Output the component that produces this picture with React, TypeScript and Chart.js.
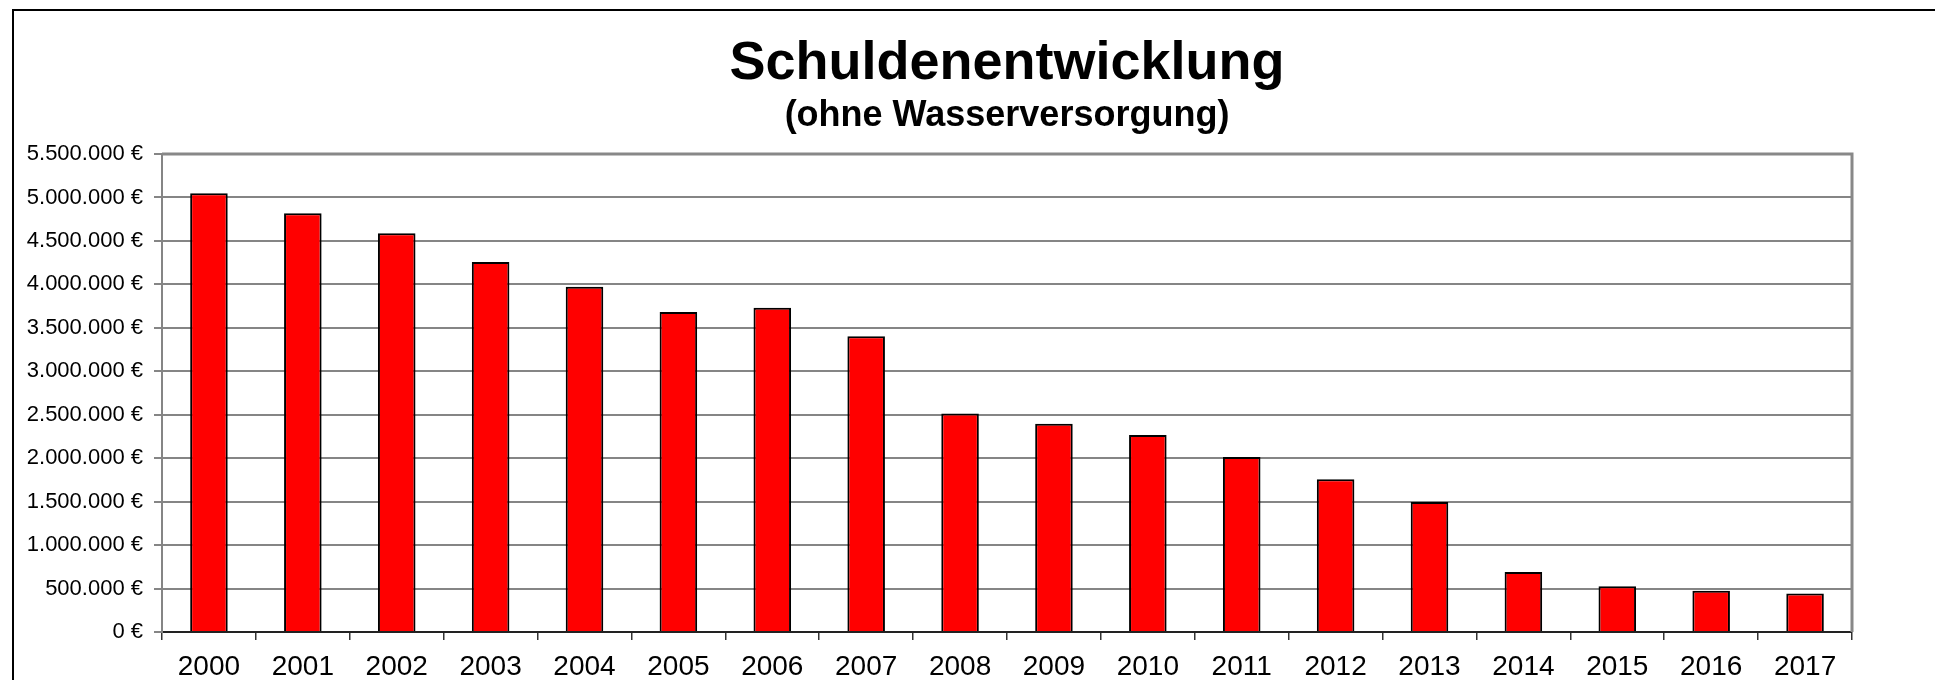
import React, { useEffect, useRef } from "react";
import { Chart, registerables } from "chart.js";

Chart.register(...registerables);

const years = [
  "2000", "2001", "2002", "2003", "2004", "2005", "2006", "2007", "2008",
  "2009", "2010", "2011", "2012", "2013", "2014", "2015", "2016", "2017",
];

const debts = [
  5047000, 4817000, 4587000, 4256000, 3972000, 3681000, 3730000, 3404000, 2514000,
  2395000, 2268000, 2015000, 1758000, 1497000, 690000, 526000, 476000, 442000,
];

const yMin = 0;
const yMax = 5500000;
const yStep = 500000;

const titleText = "Schuldenentwicklung";
const subtitleText = "(ohne Wasserversorgung)";

const FONT = "'Liberation Sans', Arial, Helvetica, sans-serif";

const formatEuro = (v: number) =>
  String(Math.round(v)).replace(/\B(?=(\d{3})+(?!\d))/g, ".") + " €";

const framePlugin = {
  id: "frame",
  beforeDraw(chart: any) {
    const ctx = chart.ctx;
    ctx.save();
    ctx.fillStyle = "#ffffff";
    ctx.fillRect(0, 0, chart.width, chart.height);
    ctx.strokeStyle = "#000000";
    ctx.lineWidth = 2;
    ctx.beginPath();
    ctx.moveTo(13, chart.height + 5);
    ctx.lineTo(13, 10);
    ctx.lineTo(chart.width + 5, 10);
    ctx.stroke();
    ctx.restore();
  },
  afterDraw(chart: any) {
    const { ctx, chartArea } = chart;
    ctx.save();
    ctx.strokeStyle = "#888888";
    ctx.lineWidth = 3;
    ctx.beginPath();
    ctx.moveTo(chartArea.left, chartArea.top);
    ctx.lineTo(chartArea.right, chartArea.top);
    ctx.lineTo(chartArea.right, chartArea.bottom);
    ctx.stroke();
    ctx.restore();
  },
};

export default function App() {
  const canvasRef = useRef<HTMLCanvasElement | null>(null);

  useEffect(() => {
    const canvas = canvasRef.current;
    if (!canvas) return;
    const chart = new Chart(canvas, {
      type: "bar",
      data: {
        labels: years,
        datasets: [
          {
            label: "Schulden",
            data: debts,
            backgroundColor: "#ff0000",
            borderColor: "#000000",
            borderWidth: 2,
            barPercentage: 0.4,
            categoryPercentage: 1,
          },
        ],
      },
      options: {
        responsive: false,
        animation: false,
        devicePixelRatio: 1,
        layout: { padding: { left: 0, right: 83, top: 0, bottom: 0 } },
        plugins: {
          legend: { display: false },
          tooltip: { enabled: false },
          title: {
            display: true,
            text: titleText,
            color: "#000000",
            fullSize: false,
            font: { family: FONT, size: 54, weight: "bold", lineHeight: 1 },
            padding: { top: 37, bottom: 7 },
          },
          subtitle: {
            display: true,
            text: subtitleText,
            color: "#000000",
            fullSize: false,
            font: { family: FONT, size: 36, weight: "bold", lineHeight: 1 },
            padding: { top: 0, bottom: 20 },
          },
        },
        scales: {
          x: {
            offset: true,
            afterFit: (s: any) => {
              s.height = 48;
            },
            grid: {
              offset: true,
              drawOnChartArea: false,
              drawTicks: true,
              tickLength: 8,
              color: "#333333",
              lineWidth: 1.5,
            },
            border: { display: true, color: "#222222", width: 2 },
            ticks: {
              color: "#000000",
              font: { family: FONT, size: 28 },
              padding: 10,
              maxRotation: 0,
              autoSkip: false,
            },
          },
          y: {
            min: yMin,
            max: yMax,
            afterFit: (s: any) => {
              s.width = 162;
            },
            grid: {
              color: "#858585",
              lineWidth: 2,
              drawTicks: true,
              tickLength: 8,
            },
            border: { display: true, color: "#858585", width: 2 },
            ticks: {
              stepSize: yStep,
              color: "#000000",
              font: { family: FONT, size: 22 },
              padding: 11,
              callback: (v: any) => formatEuro(Number(v)),
            },
          },
        },
      },
      plugins: [framePlugin],
    });
    return () => chart.destroy();
  }, []);

  return (
    <div style={{ position: "absolute", left: 0, top: 0, width: 1935, height: 680, background: "#fff" }}>
      <canvas ref={canvasRef} width={1935} height={680} style={{ display: "block", width: 1935, height: 680 }} />
    </div>
  );
}
